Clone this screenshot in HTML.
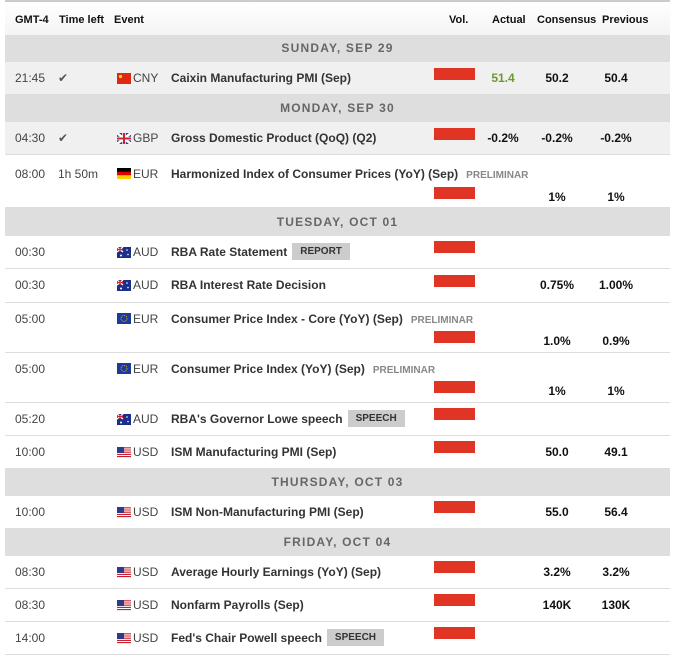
<!DOCTYPE html>
<html><head><meta charset="utf-8"><style>
body{margin:0;width:675px;height:657px;background:#fff;font-family:"Liberation Sans",sans-serif;position:relative;overflow:hidden}
.hd{position:absolute;left:5px;top:0;width:665px;height:33px;border-top:2px solid #ccc;border-bottom:2px solid #c8c8c8;background:linear-gradient(#fff,#f4f4f4)}
.hd span{position:absolute;top:0;line-height:36px;font-size:11px;font-weight:bold;color:#111}
.day{position:absolute;left:5px;width:665px;background:#dedede;text-align:center;font-size:12px;font-weight:bold;color:#666;letter-spacing:1.2px}
.r{position:absolute;left:5px;width:665px;border-bottom:1px solid #ddd;box-sizing:border-box}
.r span{position:absolute;font-size:12px;white-space:nowrap}
.tm{left:10px;color:#444}
.tl{left:53px;color:#555}
.cur{left:128px;color:#444}
.ev{left:166px;font-weight:bold;color:#333}
.fl{position:absolute;left:112px;width:14px;height:11px}
.bar{position:absolute;left:429px;width:41px;height:12px;background:#e03424}
.v{font-weight:bold;color:#111;text-align:center;width:60px}
.a{left:468px}.c{left:522px}.p{left:581px}
b.tag{display:inline-block;background:#ccc;color:#333;font-size:10px;font-weight:bold;padding:0 8px;height:17px;line-height:17px;margin-left:5px;vertical-align:middle;position:relative;top:-1px}
b.pre{color:#888;font-size:10px;font-weight:bold;margin-left:8px}
.n span{line-height:33px;top:0}
</style></head><body>
<div class="hd"><span style="left:10px">GMT-4</span><span style="left:54px">Time left</span><span style="left:109px">Event</span><span style="left:444px">Vol.</span><span style="left:487px">Actual</span><span style="left:532px">Consensus</span><span style="left:597px">Previous</span></div>

<div class="day" style="top:35px;height:27px;line-height:27px">SUNDAY, SEP 29</div>
<div class="r n" style="top:62px;height:33px;background:#f0f0f0"><span class="tm">21:45</span><span class="tl">✔</span><svg class="fl" style="top:11px"><rect width="14" height="11" fill="#de2910"/><circle cx="3.5" cy="3.5" r="1.6" fill="#ffde00"/></svg><span class="cur">CNY</span><span class="ev">Caixin Manufacturing PMI (Sep)</span><i class="bar" style="top:6px"></i><span class="v a" style="color:#6b9a2a">51.4</span><span class="v c">50.2</span><span class="v p">50.4</span></div>

<div class="day" style="top:95px;height:27px;line-height:27px">MONDAY, SEP 30</div>
<div class="r n" style="top:122px;height:33px;background:#f0f0f0"><span class="tm">04:30</span><span class="tl">✔</span><svg class="fl" style="top:11px"><rect width="14" height="11" fill="#2b3f8c"/><path d="M0 0L14 11M14 0L0 11" stroke="#fff" stroke-width="2.5"/><path d="M7 0V11M0 5.5H14" stroke="#fff" stroke-width="3.5"/><path d="M7 0V11M0 5.5H14" stroke="#d0202e" stroke-width="2"/></svg><span class="cur">GBP</span><span class="ev">Gross Domestic Product (QoQ) (Q2)</span><i class="bar" style="top:6px"></i><span class="v a">-0.2%</span><span class="v c">-0.2%</span><span class="v p">-0.2%</span></div>

<div class="r" style="top:155px;height:53px"><span class="tm" style="top:5px;line-height:28px">08:00</span><span class="tl" style="top:5px;line-height:28px;color:#444">1h 50m</span><svg class="fl" style="top:13px"><rect width="14" height="4" fill="#000"/><rect y="3.7" width="14" height="3.7" fill="#dd0000"/><rect y="7.3" width="14" height="3.7" fill="#ffce00"/></svg><span class="cur" style="top:5px;line-height:28px">EUR</span><span class="ev" style="top:5px;line-height:28px">Harmonized Index of Consumer Prices (YoY) (Sep)<b class="pre">PRELIMINAR</b></span><i class="bar" style="top:32px"></i><span class="v c" style="top:28px;line-height:28px">1%</span><span class="v p" style="top:28px;line-height:28px">1%</span></div>

<div class="day" style="top:208px;height:28px;line-height:28px">TUESDAY, OCT 01</div>
<div class="r n" style="top:236px;height:33px"><span class="tm">00:30</span><svg class="fl" style="top:11px"><rect width="14" height="11" fill="#1a2e8a"/><path d="M0 0L6 5M6 0L0 5" stroke="#fff" stroke-width="1.3"/><path d="M3 0V5M0 2.5H6" stroke="#d0202e" stroke-width="1.2"/><circle cx="10" cy="3" r=".8" fill="#fff"/><circle cx="11" cy="7.5" r=".8" fill="#fff"/><circle cx="4" cy="8.5" r="1" fill="#fff"/></svg><span class="cur">AUD</span><span class="ev">RBA Rate Statement<b class="tag">REPORT</b></span><i class="bar" style="top:5px"></i></div>
<div class="r n" style="top:269px;height:34px"><span class="tm">00:30</span><svg class="fl" style="top:11px"><rect width="14" height="11" fill="#1a2e8a"/><path d="M0 0L6 5M6 0L0 5" stroke="#fff" stroke-width="1.3"/><path d="M3 0V5M0 2.5H6" stroke="#d0202e" stroke-width="1.2"/><circle cx="10" cy="3" r=".8" fill="#fff"/><circle cx="11" cy="7.5" r=".8" fill="#fff"/><circle cx="4" cy="8.5" r="1" fill="#fff"/></svg><span class="cur">AUD</span><span class="ev">RBA Interest Rate Decision</span><i class="bar" style="top:6px"></i><span class="v c">0.75%</span><span class="v p">1.00%</span></div>

<div class="r" style="top:303px;height:50px"><span class="tm" style="top:2px;line-height:28px">05:00</span><svg class="fl" style="top:10px"><rect width="14" height="11" fill="#1d3a9a"/><circle cx="7" cy="5.5" r="3" fill="none" stroke="#fc0" stroke-width=".8" stroke-dasharray="1 1"/></svg><span class="cur" style="top:2px;line-height:28px">EUR</span><span class="ev" style="top:2px;line-height:28px">Consumer Price Index - Core (YoY) (Sep)<b class="pre">PRELIMINAR</b></span><i class="bar" style="top:28px"></i><span class="v c" style="top:24px;line-height:28px">1.0%</span><span class="v p" style="top:24px;line-height:28px">0.9%</span></div>
<div class="r" style="top:353px;height:50px"><span class="tm" style="top:2px;line-height:28px">05:00</span><svg class="fl" style="top:10px"><rect width="14" height="11" fill="#1d3a9a"/><circle cx="7" cy="5.5" r="3" fill="none" stroke="#fc0" stroke-width=".8" stroke-dasharray="1 1"/></svg><span class="cur" style="top:2px;line-height:28px">EUR</span><span class="ev" style="top:2px;line-height:28px">Consumer Price Index (YoY) (Sep)<b class="pre">PRELIMINAR</b></span><i class="bar" style="top:28px"></i><span class="v c" style="top:24px;line-height:28px">1%</span><span class="v p" style="top:24px;line-height:28px">1%</span></div>

<div class="r n" style="top:403px;height:33px"><span class="tm">05:20</span><svg class="fl" style="top:11px"><rect width="14" height="11" fill="#1a2e8a"/><path d="M0 0L6 5M6 0L0 5" stroke="#fff" stroke-width="1.3"/><path d="M3 0V5M0 2.5H6" stroke="#d0202e" stroke-width="1.2"/><circle cx="10" cy="3" r=".8" fill="#fff"/><circle cx="11" cy="7.5" r=".8" fill="#fff"/><circle cx="4" cy="8.5" r="1" fill="#fff"/></svg><span class="cur">AUD</span><span class="ev">RBA's Governor Lowe speech<b class="tag">SPEECH</b></span><i class="bar" style="top:5px"></i></div>
<div class="r n" style="top:436px;height:33px"><span class="tm">10:00</span><svg class="fl" style="top:11px"><rect width="14" height="11" fill="#fff"/><path d="M0 .8H14M0 3H14M0 5.2H14M0 7.4H14M0 9.6H14" stroke="#c8202e" stroke-width="1.1"/><rect width="7" height="6" fill="#2b3c8c"/></svg><span class="cur">USD</span><span class="ev">ISM Manufacturing PMI (Sep)</span><i class="bar" style="top:5px"></i><span class="v c">50.0</span><span class="v p">49.1</span></div>

<div class="day" style="top:469px;height:27px;line-height:27px">THURSDAY, OCT 03</div>
<div class="r n" style="top:496px;height:33px"><span class="tm">10:00</span><svg class="fl" style="top:11px"><rect width="14" height="11" fill="#fff"/><path d="M0 .8H14M0 3H14M0 5.2H14M0 7.4H14M0 9.6H14" stroke="#c8202e" stroke-width="1.1"/><rect width="7" height="6" fill="#2b3c8c"/></svg><span class="cur">USD</span><span class="ev">ISM Non-Manufacturing PMI (Sep)</span><i class="bar" style="top:5px"></i><span class="v c">55.0</span><span class="v p">56.4</span></div>

<div class="day" style="top:529px;height:27px;line-height:27px">FRIDAY, OCT 04</div>
<div class="r n" style="top:556px;height:33px"><span class="tm">08:30</span><svg class="fl" style="top:11px"><rect width="14" height="11" fill="#fff"/><path d="M0 .8H14M0 3H14M0 5.2H14M0 7.4H14M0 9.6H14" stroke="#c8202e" stroke-width="1.1"/><rect width="7" height="6" fill="#2b3c8c"/></svg><span class="cur">USD</span><span class="ev">Average Hourly Earnings (YoY) (Sep)</span><i class="bar" style="top:5px"></i><span class="v c">3.2%</span><span class="v p">3.2%</span></div>
<div class="r n" style="top:589px;height:33px"><span class="tm">08:30</span><svg class="fl" style="top:11px"><rect width="14" height="11" fill="#fff"/><path d="M0 .8H14M0 3H14M0 5.2H14M0 7.4H14M0 9.6H14" stroke="#c8202e" stroke-width="1.1"/><rect width="7" height="6" fill="#2b3c8c"/></svg><span class="cur">USD</span><span class="ev">Nonfarm Payrolls (Sep)</span><i class="bar" style="top:5px"></i><span class="v c">140K</span><span class="v p">130K</span></div>
<div class="r n" style="top:622px;height:33px"><span class="tm">14:00</span><svg class="fl" style="top:11px"><rect width="14" height="11" fill="#fff"/><path d="M0 .8H14M0 3H14M0 5.2H14M0 7.4H14M0 9.6H14" stroke="#c8202e" stroke-width="1.1"/><rect width="7" height="6" fill="#2b3c8c"/></svg><span class="cur">USD</span><span class="ev">Fed's Chair Powell speech<b class="tag">SPEECH</b></span><i class="bar" style="top:5px"></i></div>
</body></html>
